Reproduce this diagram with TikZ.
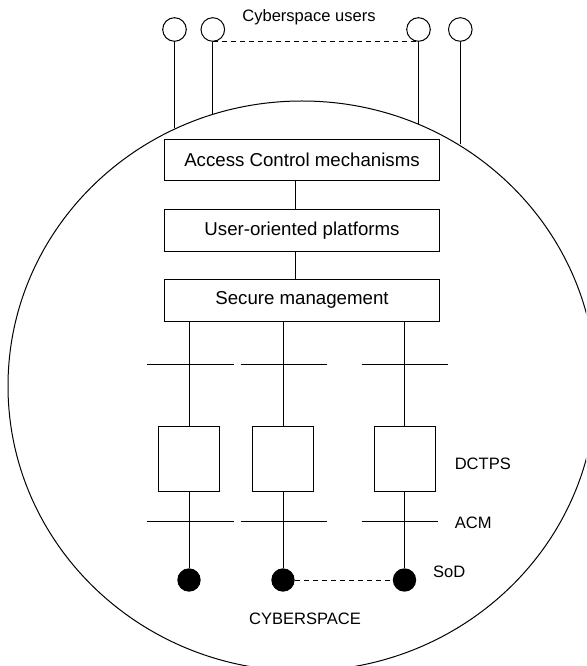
\documentclass[tikz,border=0pt]{standalone}
\usepackage{fontspec}
\setmainfont{Liberation Sans}
\usepackage{tikz}
\usetikzlibrary{chains,positioning,shapes,shapes.geometric}
\usepackage{xcolor}

\begin{document}
\begin{tikzpicture}[x=0.75pt,y=-0.75pt]
\clip (0,0) rectangle (586,666);
\tikzstyle{every path}=[line width=0.75pt]

\edef\sizeuser{17.7pt}
\edef\sizesod{17.5pt}
\tikzstyle{user}=[draw,circle,minimum size=\sizeuser,inner sep=0pt]
\tikzstyle{layer}=[draw,minimum width=206.5pt,minimum height=31.4pt,inner sep=0pt,font=\fontsize{14}{16}\selectfont]
\tikzstyle{dctpsbox}=[draw,minimum width=45.75pt,minimum height=48.2pt,inner sep=0pt]
\tikzstyle{sod}=[circle,fill=black,minimum size=\sizesod,inner sep=0pt]
\tikzstyle{tag}=[inner sep=0pt,font=\fontsize{12.4}{14}\selectfont]
\tikzstyle{link}=[dash pattern=on 3.75pt off 3pt]

\node [ellipse,draw,minimum width=441pt,minimum height=427.5pt,inner sep=0pt] (cyber) at (302,386) {};

\node [user] (u1) at (174.5,29.5) {};
\node [user] (u2) at (212.8,29.5) {};
\node [user] (u3) at (418.5,29.5) {};
\node [user] (u4) at (460.3,29.5) {};
\node [tag,anchor=base] (users) at (309,21.5) {Cyberspace users};

\begin{scope}[start chain=1 going below,node distance=20.5pt]
    \node [on chain=1,layer] (acm) at (302,160) {Access Control mechanisms};
    \node [on chain=1,layer] (uop) {User-oriented platforms};
    \node [on chain=1,layer] (sm) {Secure management};
\end{scope}

\node [dctpsbox] (p1) at (189,458.9) {};
\node [dctpsbox] (p2) at (283,458.9) {};
\node [dctpsbox] (p3) at (404.5,458.9) {};

\node [sod] (d1) at (189,580) {};
\node [sod] (d2) at (283,580) {};
\node [sod] (d3) at (404.5,580) {};

\node [tag,anchor=west] (ldctps) at (454.3,464) {DCTPS};
\node [tag,anchor=west] (lacm) at (454.3,523.3) {ACM};
\node [tag,anchor=west] (lsod) at (432.7,572) {SoD};
\node [tag] (lcyber) at (305,619.2) {CYBERSPACE};

\coordinate (spine) at (295,0);

\draw (u1.south) -- (u1.south |- cyber.116);
\draw (u2.south) -- (u2.south |- cyber.108);
\draw (u3.south) -- (u3.south |- cyber.66);
\draw (u4.south) -- (u4.south |- cyber.57);
\draw[link] (u2.south) -- (u3.south);

\draw (acm.south -| spine) -- (uop.north -| spine);
\draw (uop.south -| spine) -- (sm.north -| spine);

\draw (sm.south -| p1.north) -- (p1.north);
\draw (sm.south -| p2.north) -- (p2.north);
\draw (sm.south -| p3.north) -- (p3.north);
\draw (p1.south) -- (d1.north);
\draw (p2.south) -- (d2.north);
\draw (p3.south) -- (d3.north);
\draw[link] (d2.east) -- (d3.west);

\draw (146.7,364.3) -- (234,364.3);
\draw (240.7,364.3) -- (327.3,364.3);
\draw (361.7,364.3) -- (448.4,364.3);
\draw (146.7,521) -- (234,521);
\draw (240.7,521) -- (327.3,521);
\draw (361.7,521) -- (438.3,521);
\end{tikzpicture}
\end{document}
